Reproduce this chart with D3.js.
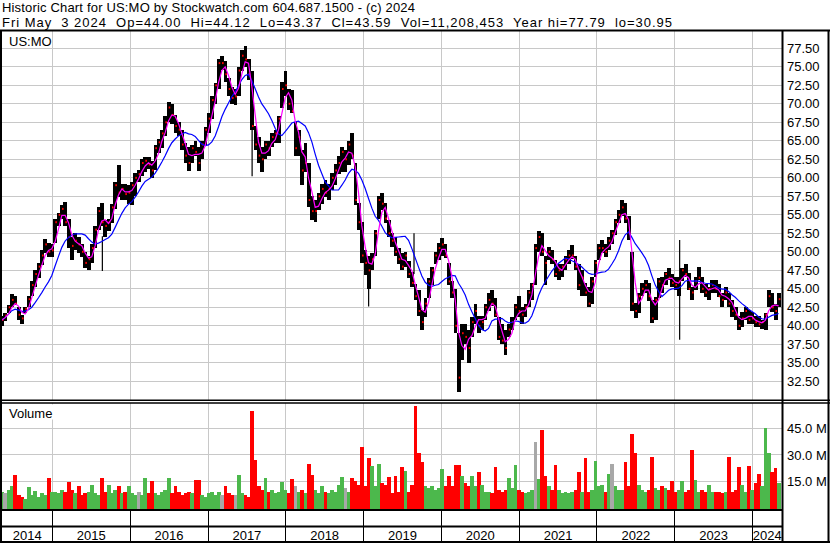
<!DOCTYPE html>
<html>
<head>
<meta charset="utf-8">
<script src="https://cdn.jsdelivr.net/npm/d3@7"></script>
<style>
  body { margin: 0; background: #fff; }
  svg text { font-family: "Liberation Sans", Arial, sans-serif; font-size: 13px; fill: #000; white-space: pre; }
</style>
</head>
<body>
<div id="chart"></div>
<script>
// half-month buckets (about 15.65 days each), first one centred on 9 May 2014
const firstDate = new Date(2014, 4, 9);
const stepDays = 15.65;

const hi = [
  41.3, 41.7, 42.8, 44.3, 44.0, 42.5, 41.5, 42.6, 44.0, 46.0,
  47.5, 48.5, 50.3, 51.7, 51.2, 51.0, 54.5, 55.3, 56.3, 56.7,
  54.5, 52.0, 52.5, 52.0, 51.0, 50.0, 49.5, 51.0, 53.5, 56.0,
  56.6, 54.3, 54.5, 56.5, 59.5, 61.7, 59.2, 59.2, 59.0, 59.5,
  60.6, 61.0, 62.5, 62.8, 62.8, 62.3, 64.5, 65.2, 66.5, 68.3,
  70.3, 70.0, 68.5, 67.5, 66.5, 64.7, 64.2, 64.5, 65.0, 64.2,
  65.0, 66.9, 68.7, 71.0, 72.8, 76.0, 76.5, 75.8, 73.5, 72.3,
  72.0, 75.0, 77.3, 77.8, 76.0, 74.5, 67.0, 65.5,
  64.2, 65.0, 65.0, 66.0, 66.5, 68.3, 73.0, 74.4, 72.0, 71.8,
  67.5, 66.5, 63.7, 64.7, 62.0, 57.5, 57.0, 58.0, 59.2, 59.7,
  59.2, 60.6, 61.9, 62.9, 64.2, 63.7, 65.0, 66.0, 62.0, 56.6,
  54.0, 50.2, 49.4, 49.8, 53.0, 57.5, 57.9, 56.6, 54.3, 52.6,
  52.0, 50.5, 49.8, 50.0, 48.8, 47.3, 45.6, 44.8, 42.2, 43.8,
  46.4, 48.0, 50.0, 51.2, 51.8, 51.1, 48.5, 46.1, 45.0, 39.0,
  40.3, 40.3, 39.5, 41.2, 43.0, 41.3, 41.3, 43.0, 44.4, 44.8,
  43.8, 41.2, 40.3, 39.4, 40.3, 41.2, 43.0, 44.0,
  42.5, 43.0, 44.8, 45.8, 51.0, 52.8, 52.5, 49.5, 50.7, 50.2,
  48.9, 48.4, 48.4, 49.4, 50.2, 50.9, 49.4, 48.4, 47.5, 45.8,
  45.3, 46.6, 48.9, 51.1, 51.6, 51.1, 52.0, 52.9, 54.5, 55.7,
  57.0, 56.6, 54.8, 50.0, 43.1, 44.4, 45.8, 46.2, 45.8, 43.5,
  43.9, 46.5, 46.6, 47.3, 47.8, 47.0, 46.6, 46.6, 47.8, 48.4,
  47.1, 45.3, 46.6, 47.9, 46.6, 45.7, 45.3, 46.2, 46.2, 45.7,
  44.4, 45.3, 44.4, 43.5, 42.6, 41.3, 41.8, 42.6, 42.2, 41.8,
  41.3, 41.3, 40.8, 41.7, 44.9, 44.4, 43.0, 44.4
];

const lo = [
  40.0, 40.7, 41.7, 42.5, 42.8, 40.8, 40.2, 41.7, 42.5, 44.0,
  45.3, 46.5, 48.2, 49.8, 49.3, 49.3, 51.2, 53.5, 54.5, 53.5,
  50.5, 48.9, 50.2, 49.8, 49.3, 47.8, 47.5, 48.5, 50.5, 53.0,
  53.5, 52.0, 52.8, 53.9, 55.8, 57.4, 57.0, 57.0, 56.5, 56.3,
  57.5, 59.5, 60.3, 60.8, 61.2, 60.0, 61.0, 63.3, 64.0, 65.6,
  67.5, 67.3, 66.0, 65.6, 63.8, 62.0, 60.9, 62.0, 62.9, 60.9,
  62.5, 64.5, 66.0, 68.0, 70.0, 72.0, 74.6, 73.0, 71.0, 70.0,
  69.8, 71.0, 74.5, 75.0, 73.2, 66.5, 63.8, 62.0,
  60.8, 62.6, 63.0, 64.2, 64.7, 64.7, 69.5, 71.0, 69.2, 68.7,
  63.0, 63.0, 59.0, 60.8, 56.0, 54.3, 54.0, 55.7, 56.5, 57.4,
  57.0, 58.4, 59.0, 60.5, 60.8, 60.8, 61.7, 62.6, 56.3, 53.0,
  48.5, 46.8, 45.0, 47.5, 49.4, 54.5, 55.6, 53.9, 52.0, 50.7,
  49.4, 48.4, 47.5, 48.0, 46.4, 45.3, 43.5, 41.3, 39.4, 41.2,
  43.8, 45.5, 48.3, 48.9, 49.4, 49.2, 45.5, 43.8, 39.0, 31.0,
  35.4, 37.6, 35.0, 38.5, 40.3, 39.0, 39.5, 40.8, 42.0, 42.7,
  41.2, 38.1, 37.6, 36.1, 38.5, 39.5, 40.8, 41.2,
  40.2, 41.2, 42.5, 43.5, 45.5, 50.0, 49.4, 45.5, 48.9, 48.4,
  46.6, 46.2, 46.6, 47.5, 48.4, 49.0, 47.5, 44.9, 44.0, 44.0,
  42.6, 43.0, 46.6, 48.9, 49.8, 49.3, 50.2, 51.1, 52.3, 53.9,
  54.8, 53.9, 51.6, 42.0, 41.1, 41.7, 44.0, 44.4, 43.3, 40.4,
  40.8, 43.8, 44.4, 45.5, 46.2, 45.3, 44.9, 44.0, 46.1, 46.6,
  44.9, 43.5, 44.8, 46.2, 44.4, 43.9, 43.5, 44.4, 44.4, 43.9,
  42.6, 43.5, 42.6, 41.2, 40.8, 39.4, 39.9, 40.8, 40.3, 40.3,
  39.9, 39.9, 39.6, 39.4, 42.6, 41.8, 40.8, 42.6
];

const cl = [
  40.8, 41.4, 42.5, 43.5, 43.0, 41.5, 41.0, 42.3, 43.6, 45.5,
  47.0, 48.0, 49.5, 51.0, 50.0, 50.2, 54.0, 55.0, 55.8, 54.0,
  52.0, 50.8, 51.5, 51.0, 50.0, 48.5, 49.0, 50.5, 53.0, 55.5,
  54.0, 53.5, 54.0, 56.0, 59.0, 58.0, 58.5, 57.8, 58.0, 59.0,
  60.0, 60.5, 62.0, 62.3, 61.8, 61.0, 64.0, 64.8, 66.0, 67.5,
  69.5, 68.5, 67.0, 66.5, 64.5, 63.0, 62.0, 64.0, 63.5, 62.0,
  64.5, 66.5, 68.0, 70.5, 72.5, 75.5, 75.5, 74.0, 72.0, 70.8,
  71.0, 74.5, 76.5, 76.0, 74.0, 67.0, 64.5, 63.0,
  62.5, 64.5, 64.0, 65.5, 66.0, 68.0, 72.0, 72.5, 70.0, 69.0,
  64.0, 65.5, 61.0, 62.0, 57.0, 55.5, 55.5, 57.5, 58.5, 58.0,
  58.5, 60.0, 61.0, 62.0, 63.5, 62.5, 64.5, 63.0, 57.0, 54.0,
  49.5, 48.5, 47.5, 49.0, 52.5, 57.0, 56.5, 54.5, 52.5, 51.5,
  50.0, 49.0, 48.0, 49.5, 47.0, 45.8, 44.0, 42.0, 40.5, 43.0,
  46.0, 47.5, 49.5, 50.5, 51.0, 49.5, 46.0, 44.5, 40.0, 33.0,
  39.0, 38.5, 37.0, 40.5, 42.0, 40.0, 40.5, 42.5, 43.5, 43.0,
  41.5, 38.5, 38.0, 37.0, 39.5, 40.5, 42.5, 42.0,
  41.5, 42.5, 44.5, 45.5, 50.5, 52.0, 50.0, 48.5, 50.0, 49.0,
  47.0, 47.5, 48.0, 49.0, 49.5, 49.5, 48.0, 45.5, 46.5, 44.5,
  43.0, 46.0, 48.5, 50.5, 50.5, 50.0, 51.5, 52.5, 54.0, 55.0,
  56.0, 54.5, 52.5, 43.0, 42.0, 44.0, 45.0, 45.5, 44.0, 41.0,
  43.5, 46.0, 45.5, 47.0, 46.5, 45.8, 45.5, 46.0, 47.5, 47.0,
  45.0, 44.5, 46.0, 46.5, 45.0, 44.5, 45.0, 45.5, 45.0, 44.0,
  43.5, 44.5, 43.0, 42.0, 41.5, 40.0, 41.0, 42.0, 40.8, 41.0,
  40.5, 40.2, 40.5, 41.5, 44.0, 42.5, 42.0, 43.6
];

// volume per bucket, millions of shares
const vol = [
  9, 8, 10, 12.5, 18.4, 7, 6, 5, 11.6, 7,
  9.4, 6, 8, 7, 16.9, 9, 9, 8, 10, 9,
  14.4, 10, 8, 12, 7, 8, 9, 13, 8, 7,
  17, 9, 13, 8, 10, 12.4, 8, 9, 12, 8,
  7, 9, 7, 17, 8, 15, 8, 7, 9, 10,
  17, 8, 12, 9, 7, 8, 9, 8, 15.6, 15.6,
  7, 6, 8, 9, 7, 9, 7, 12.5, 8, 7,
  7, 18.7, 8, 7, 6, 54.7, 27, 12, 10, 17,
  9, 10, 8, 9, 14.4, 10, 8, 16, 12, 9,
  10, 8, 24.7, 18.6, 10, 8, 12, 9, 8, 10,
  9, 13, 17.6, 11, 9, 16.9, 15, 13, 34.5, 12,
  28, 23.8, 12, 24.8, 14, 13, 17.6, 8, 18, 9,
  23, 20.6, 9, 13, 58, 31, 26, 12, 11, 12,
  10, 11, 22, 12, 18, 12, 24, 24, 18, 14,
  12, 18, 12, 20, 13, 9, 9, 8, 23, 10,
  9, 10, 17, 11, 24, 10, 9, 8, 9, 10,
  37.5, 16, 44, 18, 12, 10, 24, 10, 8, 9,
  8, 9, 10, 20, 9, 28, 9, 10, 26.6, 12,
  13, 9, 19, 25, 12, 10, 10, 25.7, 12, 42,
  31, 13, 10, 9, 10, 29, 11, 10, 12, 11,
  10, 15, 9, 10, 15, 9, 10, 32.6, 15.6, 9,
  10, 9, 13, 9, 9, 9, 8, 9, 29, 9,
  10, 23, 13, 9, 23.4, 10, 14, 19, 12, 45.4,
  31, 20, 22.5, 14
];
// buckets whose volume bar shows grey (unchanged close)
const grayIdx = [1, 41, 66, 70, 88, 103, 160, 183];

// single-day wicks drawn as thin lines
const spikeDates = ['2015-08-24', '2017-07-27', '2019-01-25', '2019-08-26', '2023-01-24'];
const spikeHi = [52.1, 73.2, 47.0, 52.5, 51.6];
const spikeLo = [47.4, 60.2, 42.6, 47.0, 38.1];

const priceTicks = [32.5, 35, 37.5, 40, 42.5, 45, 47.5, 50, 52.5, 55, 57.5, 60, 62.5, 65, 67.5, 70, 72.5, 75, 77.5];
const volTicks = [15, 30, 45];
const years = [2014, 2015, 2016, 2017, 2018, 2019, 2020, 2021, 2022, 2023, 2024];

const title1 = 'Historic Chart for US:MO by Stockwatch.com 604.687.1500 - (c) 2024';
const title2 = 'Fri May  3 2024  Op=44.00  Hi=44.12  Lo=43.37  Cl=43.59  Vol=11,208,453  Year hi=77.79  lo=30.95';

const width = 830, height = 543;
const left = 2, right = 782;

const svg = d3.select('#chart').append('svg')
    .attr('width', width)
    .attr('height', height)

const x = d3.scaleTime()
    .domain([new Date(2015, 0, 1), new Date(2024, 0, 1)])
    .range([52.3, 752.5]);
const y = d3.scaleLinear().domain([30, 80]).range([399.8, 29.8]);
const yv = d3.scaleLinear().domain([0, 45]).range([507.5, 428.5]);

const dates = hi.map((d, i) => d3.timeHour.offset(firstDate, Math.round(i * stepDays * 24)));
const bw = x(dates[1]) - x(dates[0]);

// moving averages of the closes: ~20 days (3 buckets) and ~100 days (10 buckets)
function sma(n) {
    return cl.map((d, i) => ({ date: dates[i], v: d3.mean(cl.slice(Math.max(0, i - n + 1), i + 1)) }));
}

// grid
const grid = svg.append('g').attr('stroke', '#c8c8c8').attr('stroke-width', 1).attr('shape-rendering', 'crispEdges');
const yearLines = years.slice(1).map(yr => new Date(yr, 0, 1));
grid.selectAll('.vg').data(yearLines).enter().append('line')
    .attr('x1', d => x(d)).attr('x2', d => x(d)).attr('y1', 31).attr('y2', 400);
grid.selectAll('.vg2').data(yearLines).enter().append('line')
    .attr('x1', d => x(d)).attr('x2', d => x(d)).attr('y1', 403).attr('y2', 510);
grid.selectAll('.hg').data(priceTicks).enter().append('line')
    .attr('x1', left).attr('x2', right).attr('y1', d => y(d)).attr('y2', d => y(d));
grid.selectAll('.hv').data(volTicks).enter().append('line')
    .attr('x1', left).attr('x2', right).attr('y1', d => yv(d)).attr('y2', d => yv(d));

// price bars
svg.append('g').selectAll('rect').data(hi).enter().append('rect')
    .attr('x', (d, i) => x(dates[i]) - bw / 2)
    .attr('width', bw + 0.6)
    .attr('y', d => y(d))
    .attr('height', (d, i) => y(lo[i]) - y(d))
    .attr('fill', '#000')
    .attr('shape-rendering', 'crispEdges');

svg.append('g').selectAll('line').data(spikeDates).enter().append('line')
    .attr('x1', d => x(new Date(d))).attr('x2', d => x(new Date(d)))
    .attr('y1', (d, i) => y(spikeHi[i])).attr('y2', (d, i) => y(spikeLo[i]))
    .attr('stroke', '#000').attr('stroke-width', 1.2);

// close ticks
svg.append('g').selectAll('rect').data(cl).enter().append('rect')
    .attr('x', (d, i) => x(dates[i]) + bw / 2 - 1.5)
    .attr('y', d => y(d) - 1)
    .attr('width', 1.6)
    .attr('height', 2)
    .attr('fill', '#ff0000');

const line = d3.line().x(d => x(d.date)).y(d => y(d.v));
svg.append('path').datum(sma(10)).attr('d', line)
    .attr('fill', 'none').attr('stroke', '#0000ff').attr('stroke-width', 1.2);
svg.append('path').datum(sma(3)).attr('d', line)
    .attr('fill', 'none').attr('stroke', '#ff00ff').attr('stroke-width', 1.2);

// volume bars
svg.append('g').selectAll('rect').data(vol).enter().append('rect')
    .attr('x', (d, i) => x(dates[i]) - bw / 2)
    .attr('width', bw + 0.4)
    .attr('y', d => yv(d))
    .attr('height', d => 509.5 - yv(d))
    .attr('fill', (d, i) => grayIdx.includes(i) ? '#a8a8a8' : (i > 0 && cl[i] < cl[i - 1]) ? '#ff0000' : '#4cb84c')
    .attr('shape-rendering', 'crispEdges');

// right axes
const pAxis = svg.append('g').attr('transform', 'translate(786,0)')
    .call(d3.axisRight(y).tickValues(priceTicks).tickSize(0).tickPadding(1).tickFormat(d3.format('.2f')));
const vAxis = svg.append('g').attr('transform', 'translate(786,0)')
    .call(d3.axisRight(yv).tickValues(volTicks).tickSize(0).tickPadding(1).tickFormat(d => d.toFixed(1) + ' M'));
[pAxis, vAxis].forEach(a => {
    a.select('.domain').remove();
    a.selectAll('text').attr('font-size', null).attr('font-family', null);
});

// panel labels
svg.append('rect').attr('x', 4).attr('y', 32).attr('width', 47).attr('height', 15).attr('fill', '#fff');
svg.append('text').attr('x', 9).attr('y', 45.5).text('US:MO');
svg.append('rect').attr('x', 4).attr('y', 404.5).attr('width', 50).attr('height', 15).attr('fill', '#fff');
svg.append('text').attr('x', 9).attr('y', 418).text('Volume');

// header (the original font runs wider, so stretch the spacing to its widths)
svg.append('text').attr('x', 2).attr('y', 12)
    .attr('textLength', 413).attr('lengthAdjust', 'spacing').text(title1);
svg.append('text').attr('x', 2).attr('y', 26.5)
    .attr('textLength', 670).attr('lengthAdjust', 'spacing').text(title2);

// year labels
const xAxisG = svg.append('g');
xAxisG.selectAll('line').data(yearLines).enter().append('line')
    .attr('x1', d => x(d)).attr('x2', d => x(d)).attr('y1', 510).attr('y2', 542)
    .attr('stroke', '#000').attr('stroke-width', 1).attr('shape-rendering', 'crispEdges');
xAxisG.selectAll('text').data(years).enter().append('text')
    .attr('x', yr => (Math.max(x(new Date(yr, 0, 1)), left) + Math.min(x(new Date(yr + 1, 0, 1)), right)) / 2)
    .attr('y', 540)
    .attr('text-anchor', 'middle')
    .text(yr => yr);

// frame
const frame = [
    [0, 30.5, width, 30.5, 2],
    [1, 30, 1, height, 2],
    [782.5, 30, 782.5, height, 2],
    [828.5, 30, 828.5, height, 2],
    [0, 400.3, width, 400.3, 1.5],
    [0, 403, width, 403, 1.5],
    [0, 510, right, 510, 2],
    [0, 526.5, right, 526.5, 2],
    [0, 542, width, 542, 2]
];
svg.append('g').selectAll('line').data(frame).enter().append('line')
    .attr('x1', d => d[0]).attr('y1', d => d[1]).attr('x2', d => d[2]).attr('y2', d => d[3])
    .attr('stroke', '#000').attr('stroke-width', d => d[4]);
</script>
</body>
</html>
